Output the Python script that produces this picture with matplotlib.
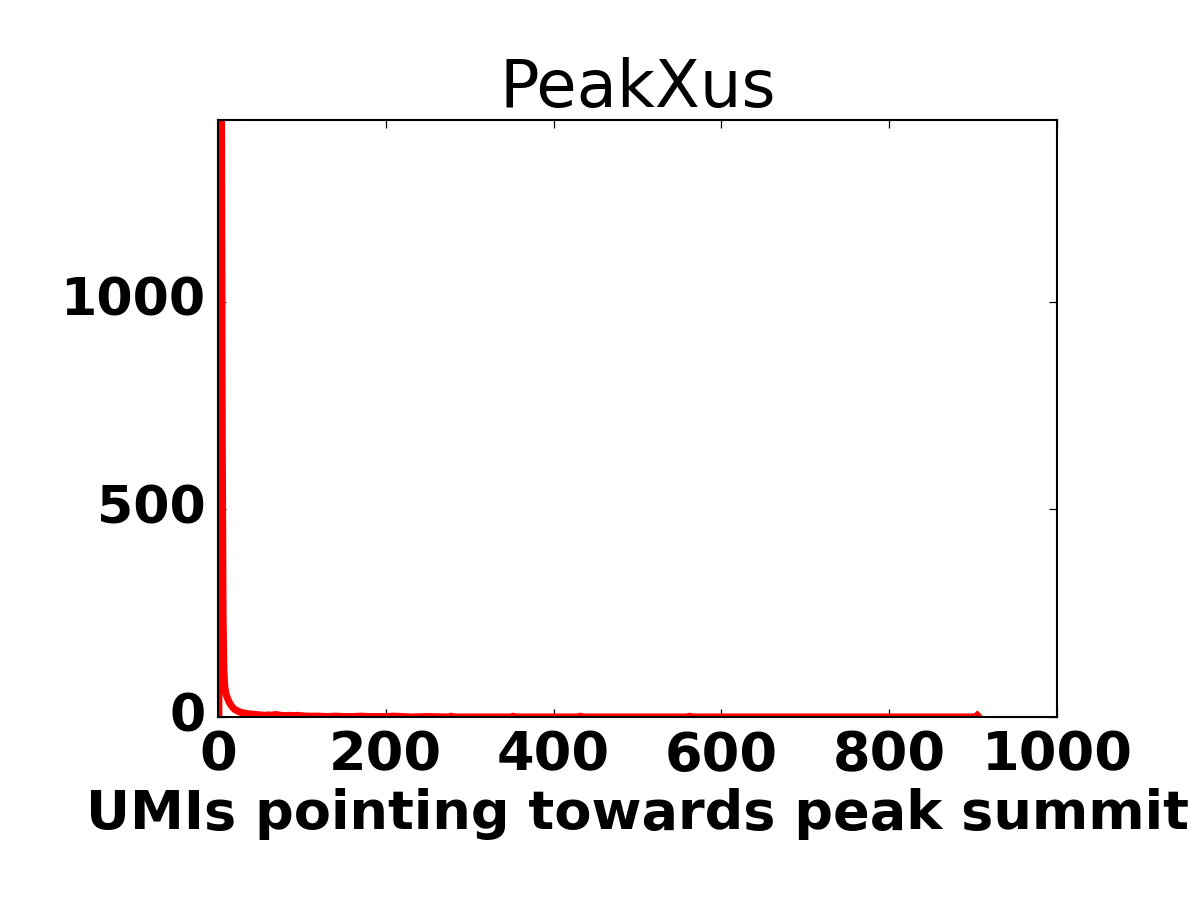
import matplotlib
matplotlib.use("Agg")
import matplotlib.pyplot as plt

# number of UMIs pointing towards the peak summit (x) and count (y)
umis = [1, 2, 3, 4, 5, 6, 7, 8, 9, 10, 12, 14, 16, 18, 20, 23, 26, 30, 35, 40,
        45, 50, 55, 60, 65, 68, 70, 72, 75, 80, 85, 90, 95, 98, 100, 105, 110,
        120, 130, 140, 150, 160, 170, 180, 190, 200, 210, 220, 230, 250, 276,
        278, 280, 300, 350, 352, 354, 400, 430, 432, 434, 436, 500, 560, 562,
        564, 600, 700, 800, 900, 903, 905]
counts = [0, 2600, 2200, 1600, 700, 250, 110, 75, 60, 52, 42, 33, 27, 22, 18,
          15, 12, 10, 8, 7, 6, 5, 4, 5, 4, 6, 4, 5, 4, 3, 4, 3, 4, 3, 3, 2, 2,
          2, 1, 2, 1, 1, 2, 1, 1, 1, 2, 1, 0, 1, 0, 2, 0, 0, 0, 2, 0, 0, 0, 2,
          0, 0, 0, 0, 2, 0, 0, 0, 0, 0, 0, 4]

title = "PeakXus"
xlabel = "UMIs pointing towards peak summit"
xticks = [0, 200, 400, 600, 800, 1000]
yticks = [0, 500, 1000]

plt.rcParams['font.family'] = ['DejaVu Sans']
plt.rcParams['font.size'] = 26

fig = plt.figure(figsize=(8, 6), dpi=150, facecolor='white')
ax = fig.add_axes([218 / 1200, 1 - 717 / 900, (1057 - 218) / 1200, (717 - 120) / 900])

ax.plot(umis, counts, color='red', linewidth=3.4, solid_joinstyle='round')

ax.set_xlim(0, 1000)
ax.set_ylim(0, 1438)
ax.set_xticks(xticks)
ax.set_yticks(yticks)
ax.set_xticklabels([str(v) for v in xticks], fontweight='bold', fontsize=26)
ax.set_yticklabels([str(v) for v in yticks], fontweight='bold', fontsize=25,
                   va='center')
ax.tick_params(direction='in', top=True, right=True, length=4, width=0.6, pad=6)
for s in ax.spines.values():
    s.set_linewidth(1.0)

ax.set_title(title, fontsize=31.5, pad=6)
ax.set_xlabel(xlabel, fontweight='bold', fontsize=26, labelpad=3)

fig.savefig("out.png", dpi=150, facecolor='white')
